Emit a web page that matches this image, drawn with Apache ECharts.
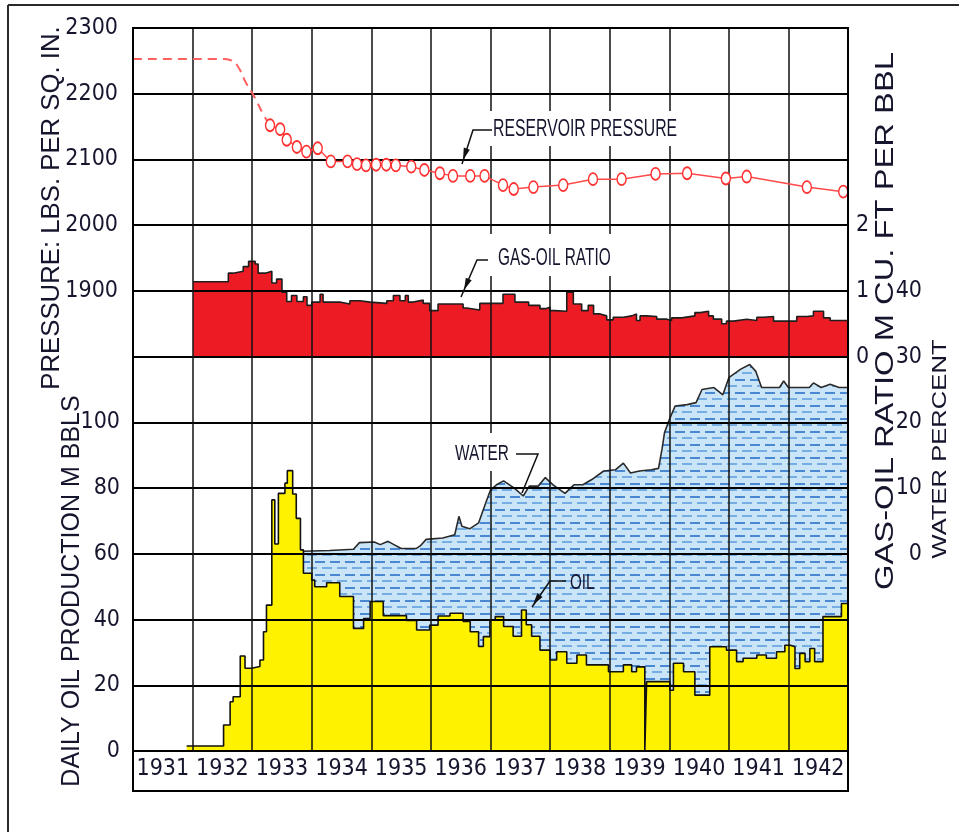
<!DOCTYPE html>
<html>
<head>
<meta charset="utf-8">
<title>Reservoir performance 1931-1942</title>
<script src="https://cdn.jsdelivr.net/npm/echarts@6/dist/echarts.min.js"></script>
<style>
  html, body { margin: 0; padding: 0; background: #ffffff; }
  #main { width: 959px; height: 832px; }
</style>
</head>
<body>
<div id="main"></div>
<script>
// ---- data -------------------------------------------------------------
const yearLabels = ['1931','1932','1933','1934','1935','1936','1937','1938','1939','1940','1941','1942'];
const oilTicks = [0, 20, 40, 60, 80, 100];
const pressureTicks = [1900, 2000, 2100, 2200, 2300];
const gorTicks = [0, 1, 2];
const waterTicks = [0, 10, 20, 30, 40];

// reservoir pressure, lbs per sq. in. (estimated part before the first survey)
const pressureEarly = [
  [1931.00, 2253], [1932.52, 2253], [1932.64, 2251], [1932.75, 2243], [1932.90, 2216],
  [1933.05, 2193], [1933.19, 2168], [1933.30, 2152]
];
// reservoir pressure, surveys
const pressureMeasured = [
  [1933.30, 2152], [1933.47, 2146], [1933.58, 2130], [1933.75, 2119], [1933.91, 2112],
  [1934.10, 2117], [1934.32, 2097], [1934.60, 2097], [1934.76, 2093], [1934.91, 2091],
  [1935.08, 2092], [1935.25, 2092], [1935.41, 2091], [1935.67, 2089], [1935.89, 2084],
  [1936.15, 2079], [1936.37, 2075], [1936.66, 2075], [1936.90, 2075], [1937.21, 2061],
  [1937.39, 2055], [1937.72, 2058], [1938.22, 2061], [1938.72, 2070], [1939.20, 2070],
  [1939.77, 2078], [1940.30, 2079], [1940.95, 2071], [1941.30, 2074], [1942.31, 2058],
  [1942.92, 2051]
];

// gas-oil ratio, M cu. ft per bbl (value holds until the next date)
const gasOilRatio = [
  [1932.01, 1.14], [1932.60, 1.27], [1932.68, 1.30], [1932.85, 1.37], [1932.94, 1.45],
  [1933.05, 1.41], [1933.10, 1.27], [1933.22, 1.30], [1933.33, 1.12], [1933.41, 1.18],
  [1933.50, 0.98], [1933.58, 0.84], [1933.66, 0.93], [1933.75, 0.84], [1933.86, 0.91],
  [1933.92, 0.78], [1934.00, 0.83], [1934.14, 0.95], [1934.19, 0.83], [1934.47, 0.80],
  [1934.64, 0.85], [1934.81, 0.83], [1934.98, 0.81], [1935.26, 0.85], [1935.37, 0.93],
  [1935.48, 0.85], [1935.57, 0.93], [1935.62, 0.83], [1935.70, 0.86], [1935.87, 0.81],
  [1935.98, 0.70], [1936.12, 0.80], [1936.54, 0.74], [1936.60, 0.71], [1936.82, 0.81],
  [1937.21, 0.95], [1937.41, 0.83], [1937.64, 0.78], [1937.83, 0.73], [1937.92, 0.75],
  [1938.00, 0.70], [1938.08, 0.69], [1938.28, 0.98], [1938.39, 0.80], [1938.53, 0.70],
  [1938.64, 0.78], [1938.73, 0.65], [1938.84, 0.62], [1938.95, 0.56], [1939.06, 0.60],
  [1939.23, 0.62], [1939.37, 0.65], [1939.45, 0.55], [1939.51, 0.62], [1939.62, 0.61],
  [1939.79, 0.57], [1939.96, 0.55], [1940.04, 0.59], [1940.21, 0.62], [1940.43, 0.67],
  [1940.52, 0.69], [1940.66, 0.62], [1940.74, 0.57], [1940.88, 0.50], [1940.96, 0.54],
  [1941.08, 0.57], [1941.30, 0.55], [1941.47, 0.60], [1941.58, 0.61], [1941.75, 0.54],
  [1942.14, 0.61], [1942.31, 0.62], [1942.42, 0.69], [1942.59, 0.59], [1942.70, 0.55],
  [1943.00, 0.55]
];

// daily oil production, M bbls (value holds until the next date)
const oilProduction = [
  [1931.90, 1.5], [1932.52, 7.9], [1932.63, 15.0], [1932.68, 16.5], [1932.80, 28.9],
  [1932.88, 25.2], [1932.99, 25.7], [1933.13, 27.7], [1933.19, 36.3], [1933.24, 44.4],
  [1933.33, 76.4], [1933.38, 63.0], [1933.44, 78.4], [1933.55, 81.5], [1933.59, 85.3],
  [1933.68, 78.2], [1933.74, 70.8], [1933.81, 61.2], [1933.86, 54.1], [1934.00, 52.0],
  [1934.05, 50.0], [1934.25, 51.2], [1934.47, 47.0], [1934.70, 37.3], [1934.87, 40.3],
  [1934.98, 45.5], [1935.20, 41.2], [1935.59, 39.7], [1935.76, 36.8], [1935.98, 38.3],
  [1936.12, 41.1], [1936.32, 41.9], [1936.54, 39.4], [1936.66, 36.3], [1936.80, 31.8],
  [1936.88, 34.8], [1936.99, 39.9], [1937.08, 40.9], [1937.22, 37.9], [1937.38, 34.9],
  [1937.52, 42.9], [1937.60, 38.4], [1937.69, 34.9], [1937.83, 30.7], [1938.00, 27.7],
  [1938.11, 30.2], [1938.28, 26.7], [1938.45, 29.2], [1938.61, 26.2], [1938.98, 24.1],
  [1939.23, 26.2], [1939.37, 24.1], [1939.45, 25.6], [1939.59, 0.0], [1939.62, 21.1],
  [1940.01, 18.5], [1940.07, 26.7], [1940.24, 24.1], [1940.43, 17.0], [1940.68, 31.7],
  [1940.96, 30.7], [1941.13, 27.2], [1941.24, 28.2], [1941.47, 29.2], [1941.63, 28.2],
  [1941.80, 30.2], [1941.94, 32.2], [1942.03, 31.7], [1942.11, 25.1], [1942.19, 29.7],
  [1942.28, 27.2], [1942.36, 31.2], [1942.44, 27.2], [1942.58, 40.9], [1942.89, 44.9],
  [1943.00, 44.9]
];

// water, percent of production
const waterPercent = [
  [1933.85, 0.4], [1934.30, 0.5], [1934.70, 0.7], [1934.80, 1.7], [1935.05, 1.8],
  [1935.15, 1.4], [1935.28, 1.9], [1935.38, 1.4], [1935.50, 0.8], [1935.75, 0.8],
  [1935.82, 1.2], [1935.92, 2.2], [1936.20, 2.4], [1936.40, 2.9], [1936.47, 5.7],
  [1936.52, 4.2], [1936.65, 3.8], [1936.80, 4.7], [1936.93, 8.0], [1937.00, 9.7],
  [1937.10, 10.5], [1937.22, 11.1], [1937.40, 10.0], [1937.55, 8.8], [1937.65, 10.3],
  [1937.80, 10.3], [1937.92, 11.6], [1938.05, 10.5], [1938.25, 9.2], [1938.40, 10.5],
  [1938.55, 10.5], [1938.70, 11.3], [1938.90, 12.6], [1939.10, 12.8], [1939.23, 13.8],
  [1939.35, 12.3], [1939.50, 12.6], [1939.70, 12.8], [1939.82, 13.0], [1939.88, 16.0],
  [1939.92, 18.4], [1940.00, 20.4], [1940.10, 22.5], [1940.30, 22.7], [1940.45, 23.0],
  [1940.55, 25.0], [1940.75, 25.3], [1940.90, 24.2], [1941.00, 26.8], [1941.20, 28.1],
  [1941.35, 28.8], [1941.45, 27.8], [1941.55, 25.3], [1941.85, 25.3], [1941.92, 26.3],
  [1942.00, 25.3], [1942.35, 25.3], [1942.42, 26.0], [1942.55, 25.3], [1942.70, 25.8],
  [1942.85, 25.3], [1943.00, 25.3]
];

// ---- layout & styles --------------------------------------------------
const PLOT = { left: 133, top: 28, right: 848, bottom: 751, labelBottom: 791 };
const AXIS_FONT = "'Liberation Sans Narrow', 'Arial Narrow', 'DejaVu Sans Condensed', sans-serif";
const TEXT_FONT = "'Liberation Sans', Arial, sans-serif";
const INK = '#15152e';

// dashed light-blue fill used for the water band
function makeWaterPattern() {
  const c = document.createElement('canvas');
  c.width = 30; c.height = 13;
  const g = c.getContext('2d');
  g.fillStyle = '#cbe5f8';
  g.fillRect(0, 0, 30, 13);
  g.fillStyle = '#4a88d2';
  g.fillRect(0, 2, 10, 2);
  g.fillRect(15, 2, 10, 2);
  g.fillStyle = '#76aee4';
  g.fillRect(7, 8, 10, 2);
  g.fillRect(22, 8, 8, 2);
  g.fillRect(0, 8, 2, 2);
  return c;
}

function tickFormatter(list) {
  return function (v) {
    const r = Math.round(v * 1000) / 1000;
    return list.indexOf(r) >= 0 ? String(r) : '';
  };
}

function arrowHead(tip, from, len, half) {
  const dx = tip[0] - from[0], dy = tip[1] - from[1];
  const d = Math.sqrt(dx * dx + dy * dy);
  const ux = dx / d, uy = dy / d;
  const bx = tip[0] - ux * len, by = tip[1] - uy * len;
  return [tip, [bx - uy * half, by + ux * half], [bx + uy * half, by - ux * half]];
}

const axisLabelBase = { fontFamily: AXIS_FONT, fontSize: 23, color: INK };

const option = {
  animation: false,
  backgroundColor: '#ffffff',
  grid: {
    left: PLOT.left, top: PLOT.top,
    width: PLOT.right - PLOT.left, height: PLOT.bottom - PLOT.top,
    show: false, containLabel: false
  },
  xAxis: [
    {
      type: 'value', min: 1931, max: 1943, interval: 1, z: 3,
      axisLabel: { show: false }, axisTick: { show: false },
      axisLine: { show: true, lineStyle: { color: '#000', width: 2 } },
      splitLine: { show: true, lineStyle: { color: '#111', width: 1.5 } }
    },
    {
      type: 'category', data: yearLabels, position: 'bottom', boundaryGap: true,
      axisLine: { show: false }, axisTick: { show: false }, splitLine: { show: false },
      axisLabel: Object.assign({ margin: 7, interval: 0 }, axisLabelBase)
    }
  ],
  yAxis: [
    {
      type: 'value', min: 0, max: 220, interval: 20, position: 'left', z: 3,
      axisLine: { show: false }, axisTick: { show: false },
      splitLine: { show: true, lineStyle: { color: '#000', width: 2 } },
      axisLabel: Object.assign({ margin: 13, showMinLabel: true, showMaxLabel: true,
        formatter: tickFormatter(oilTicks) }, axisLabelBase)
    },
    {
      type: 'value', min: 1200, max: 2300, interval: 100, position: 'left', z: 3,
      axisLine: { show: false }, axisTick: { show: false }, splitLine: { show: false },
      axisLabel: Object.assign({ margin: 15, showMinLabel: true, showMaxLabel: true,
        formatter: tickFormatter(pressureTicks) }, axisLabelBase)
    },
    {
      type: 'value', min: -6, max: 5, interval: 1, position: 'right', z: 3,
      axisLine: { show: false }, axisTick: { show: false }, splitLine: { show: false },
      axisLabel: Object.assign({ margin: 8, formatter: tickFormatter(gorTicks) }, axisLabelBase)
    },
    {
      type: 'value', min: -30, max: 80, interval: 10, position: 'right', z: 3,
      axisLine: { show: false }, axisTick: { show: false }, splitLine: { show: false },
      axisLabel: Object.assign({ margin: 74, align: 'right', formatter: tickFormatter(waterTicks) }, axisLabelBase)
    }
  ],
  series: [
    {
      name: 'WATER', type: 'line', xAxisIndex: 0, yAxisIndex: 3, z: 1,
      data: waterPercent, showSymbol: false, symbol: 'none',
      lineStyle: { color: '#2a2a2a', width: 1.6 },
      areaStyle: { color: { image: makeWaterPattern(), repeat: 'repeat' }, origin: 'start', opacity: 1 }
    },
    {
      name: 'OIL', type: 'line', step: 'end', xAxisIndex: 0, yAxisIndex: 0, z: 2,
      data: oilProduction, showSymbol: false, symbol: 'none',
      lineStyle: { color: '#111', width: 1.6 },
      areaStyle: { color: '#fff200', opacity: 1 }
    },
    {
      name: 'GAS-OIL RATIO', type: 'line', step: 'end', xAxisIndex: 0, yAxisIndex: 2, z: 2,
      data: gasOilRatio, showSymbol: false, symbol: 'none',
      lineStyle: { color: '#1e1e1e', width: 1.6 },
      areaStyle: { color: '#ed1c24', opacity: 1 }
    },
    {
      name: 'RESERVOIR PRESSURE (est.)', type: 'line', xAxisIndex: 0, yAxisIndex: 1, z: 5,
      data: pressureEarly, showSymbol: false, symbol: 'none', smooth: 0.5,
      lineStyle: { color: '#ff6161', width: 2, type: [9, 6] }
    },
    {
      name: 'RESERVOIR PRESSURE', type: 'line', xAxisIndex: 0, yAxisIndex: 1, z: 5,
      data: pressureMeasured, symbol: 'circle', symbolSize: [9, 12], showSymbol: true,
      lineStyle: { color: '#ff4a4a', width: 1.5 },
      itemStyle: { color: '#ffffff', borderColor: '#ff3030', borderWidth: 1.6 }
    }
  ],
  graphic: []
};

// ---- frame, titles and call-outs ---------------------------------------
const g = [];
// page frame
g.push({ type: 'line', z: 30, shape: { x1: 8, y1: 5, x2: 959, y2: 5 }, style: { stroke: '#2a2a2a', lineWidth: 2 } });
g.push({ type: 'line', z: 30, shape: { x1: 8, y1: 5, x2: 8, y2: 832 }, style: { stroke: '#2a2a2a', lineWidth: 2 } });
// plot frame including the year strip
g.push({ type: 'rect', z: 30, shape: { x: PLOT.left, y: PLOT.top, width: PLOT.right - PLOT.left, height: PLOT.labelBottom - PLOT.top },
  style: { fill: null, stroke: '#000', lineWidth: 2 } });

// axis titles (rotated)
function vText(text, cx, cy, size, stretch) {
  return { type: 'text', z: 30, x: cx, y: cy, rotation: Math.PI / 2, scaleX: stretch, scaleY: 1,
    style: { text: text, font: size + 'px ' + TEXT_FONT, fill: INK,
      textAlign: 'center', textVerticalAlign: 'middle', align: 'center', verticalAlign: 'middle' } };
}
g.push(vText('PRESSURE: LBS. PER SQ. IN.', 52, 208, 25, 1.03));
g.push(vText('DAILY OIL PRODUCTION M BBLS', 72, 591, 25, 1.0));
g.push(vText('GAS-OIL RATIO M CU. FT PER BBL', 886, 321, 25, 1.31));
g.push(vText('WATER PERCENT', 940, 449, 21, 1.22));

// white boxes behind call-out text
function box(x, y, w, h) {
  return { type: 'rect', z: 20, shape: { x: x, y: y, width: w, height: h }, style: { fill: '#ffffff' } };
}
g.push(box(490, 111, 195, 35));
g.push(box(482, 234, 138, 42));
g.push(box(450, 433, 66, 38));

function label(text, x, y, sx, sy) {
  return { type: 'text', z: 31, x: x, y: y, scaleX: sx, scaleY: sy,
    style: { text: text, font: '20px ' + TEXT_FONT, fill: INK,
      textAlign: 'left', textVerticalAlign: 'middle', align: 'left', verticalAlign: 'middle' } };
}
g.push(label('RESERVOIR PRESSURE', 493, 129, 0.79, 1.19));
g.push(label('GAS-OIL RATIO', 498, 258, 0.77, 1.19));
g.push(label('WATER', 455, 454, 0.77, 1.12));
g.push(label('OIL', 570, 583, 0.76, 1.12));

function leader(points) {
  return { type: 'polyline', z: 31, shape: { points: points }, style: { stroke: '#111', lineWidth: 1.5, fill: null } };
}
function head(tip, from) {
  return { type: 'polygon', z: 31, shape: { points: arrowHead(tip, from, 12, 3.2) }, style: { fill: '#111' } };
}
g.push(leader([[492, 130], [473, 130], [462, 164]]));
g.push(head([463, 160], [473, 130]));
g.push(leader([[488, 260], [477, 260], [461, 297]]));
g.push(head([464, 290], [477, 260]));
g.push(leader([[516, 454], [538, 454], [522, 493]]));
g.push(leader([[566, 581], [550, 581], [532, 607]]));
g.push(head([533, 605], [550, 581]));

option.graphic = g;

const chart = echarts.init(document.getElementById('main'), null, { renderer: 'canvas' });
chart.setOption(option);
</script>
</body>
</html>
